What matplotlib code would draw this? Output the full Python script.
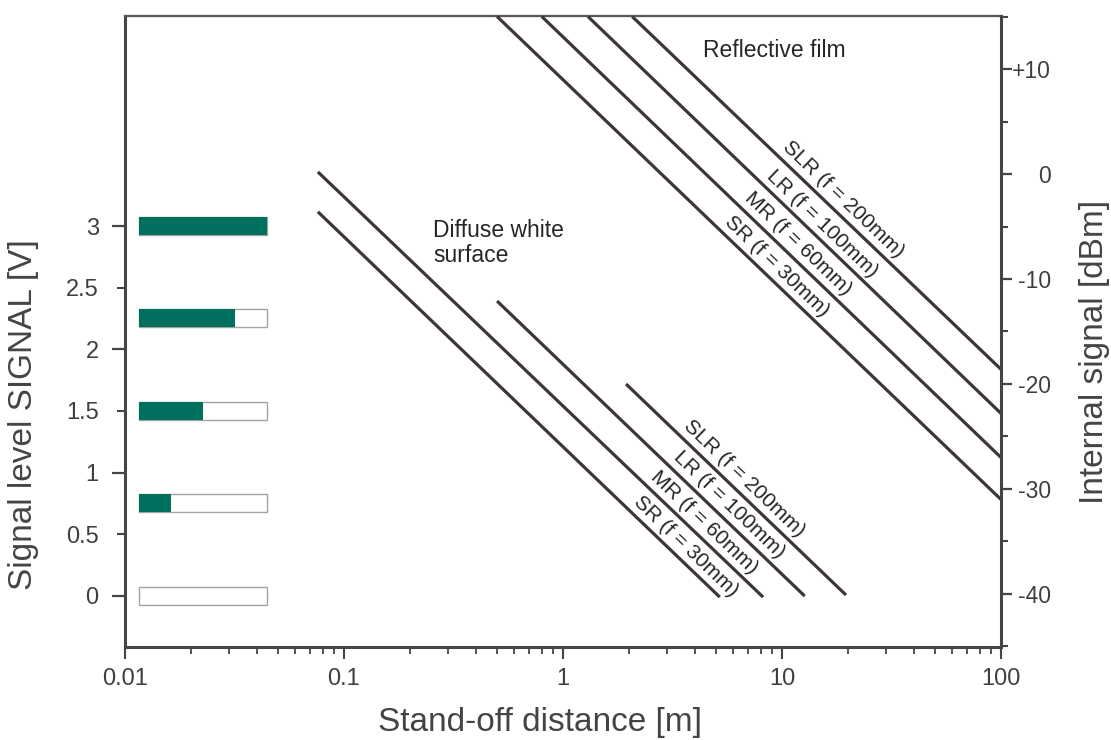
import numpy as np
import matplotlib.pyplot as plt
from matplotlib.ticker import FixedLocator, FixedFormatter, MultipleLocator, LogLocator, NullFormatter

plt.rcParams['font.family'] = ['Liberation Sans', 'DejaVu Sans']

# signal level bars on the left axis (V)
levels_v = [0.0, 0.75, 1.5, 2.25, 3.0]
full_scale_v = 3.0

# lines: stand-off distance (m) vs internal signal (dBm), endpoints
names = ['SR (f = 30mm)', 'MR (f = 60mm)', 'LR (f = 100mm)', 'SLR (f = 200mm)']
diffuse_d0 = [0.076, 0.076, 0.50, 1.94]
diffuse_s0 = [-3.6, 0.2, -12.1, -20.0]
diffuse_d1 = [5.2, 8.2, 12.7, 19.6]
diffuse_s1 = [-40.3, -40.3, -40.2, -40.1]
reflect_d0 = [0.50, 0.80, 1.30, 2.07]
reflect_s0 = [15.0, 15.0, 15.0, 15.0]
reflect_d1 = [100.0, 100.0, 100.0, 100.0]
reflect_s1 = [-31.0, -27.0, -22.8, -18.6]
# distance along each line where its label sits
diffuse_lab_d = [3.3, 4.0, 5.2, 6.1]
reflect_lab_d = [8.6, 10.7, 13.9, 17.2]

x_ticks = [0.01, 0.1, 1, 10, 100]
x_ticklabels = ['0.01', '0.1', '1', '10', '100']
v_major = [0, 1, 2, 3]
v_major_labels = ['0', '1', '2', '3']
v_minor = [0.5, 1.5, 2.5]
v_minor_labels = ['0.5', '1.5', '2.5']
dbm_ticks = [-40, -30, -20, -10, 0, 10]
dbm_ticklabels = ['-40', '-30', '-20', '-10', '0', '+10']

green = '#00705e'
line_c = '#3e3537'
spine_c = '#454545'
tick_c = '#3f3f3f'
text_c = '#262626'

fig = plt.figure(figsize=(11.11, 7.40), dpi=100)
ax = fig.add_axes([125/1111, 93/740, 876/1111, 631/740])
ax2 = ax.twinx()

ax.set_xscale('log')
ax.set_xlim(0.01, 100)
ax.set_ylim(-0.414, 4.703)
ax2.set_ylim(-45.05, 15.05)

# bars
lo, hi = 0.01158, 0.04448
for v in levels_v:
    frac = v / full_scale_v
    mid = 10 ** (np.log10(lo) + frac * (np.log10(hi) - np.log10(lo)))
    ax.barh(v, hi - lo, left=lo, height=0.146, color='white', edgecolor='#a3a3a3', linewidth=1.0)
    if frac > 0:
        ax.barh(v, mid - lo, left=lo, height=0.146, color=green, edgecolor='none')

# lines
for i in range(4):
    ax2.plot([diffuse_d0[i], diffuse_d1[i]], [diffuse_s0[i], diffuse_s1[i]],
             color=line_c, lw=2.3, solid_capstyle='butt')
    ax2.plot([reflect_d0[i], reflect_d1[i]], [reflect_s0[i], reflect_s1[i]],
             color=line_c, lw=2.3, solid_capstyle='butt')


def label_line(d0, s0, d1, s1, d_lab, text):
    t = (np.log10(d_lab) - np.log10(d0)) / (np.log10(d1) - np.log10(d0))
    s_lab = s0 + t * (s1 - s0)
    p0 = ax2.transData.transform((d0, s0))
    p1 = ax2.transData.transform((d1, s1))
    dx, dy = p1 - p0
    ang = np.degrees(np.arctan2(dy, dx))
    n = np.array([-dy, dx]) / np.hypot(dx, dy)
    ax2.annotate(text, (d_lab, s_lab), xytext=9.6 * n, textcoords='offset points',
                 rotation=ang, rotation_mode='anchor', ha='center', va='center',
                 fontsize=15, color=text_c)


for i in range(4):
    label_line(diffuse_d0[i], diffuse_s0[i], diffuse_d1[i], diffuse_s1[i], diffuse_lab_d[i], names[i])
    label_line(reflect_d0[i], reflect_s0[i], reflect_d1[i], reflect_s1[i], reflect_lab_d[i], names[i])

ax.text(0.3516, 0.678, 'Diffuse white\nsurface', transform=ax.transAxes, ha='left', va='top',
        fontsize=16.5, linespacing=1.1, color=text_c)
ax.text(0.660, 0.9635, 'Reflective film', transform=ax.transAxes, ha='left', va='top',
        fontsize=16.5, color=text_c)

# spines
for s in ['left', 'bottom']:
    ax.spines[s].set_color(spine_c)
    ax.spines[s].set_linewidth(2.2)
ax.spines['top'].set_color('#555555')
ax.spines['top'].set_linewidth(1.6)
ax.spines['right'].set_visible(False)
for s in ['left', 'bottom', 'top']:
    ax2.spines[s].set_visible(False)
ax2.spines['right'].set_color(spine_c)
ax2.spines['right'].set_linewidth(2.2)

# x axis
ax.xaxis.set_major_locator(FixedLocator(x_ticks))
ax.xaxis.set_major_formatter(FixedFormatter(x_ticklabels))
ax.xaxis.set_minor_locator(LogLocator(base=10, subs=np.arange(2, 10)))
ax.xaxis.set_minor_formatter(NullFormatter())
ax.tick_params(axis='x', which='major', direction='out', length=8.6, width=1.5,
               color=spine_c, labelsize=17, labelcolor=tick_c, pad=6.5, top=False)
ax.tick_params(axis='x', which='minor', direction='out', length=5, width=1.3,
               color=spine_c, top=False)

# left axis
ax.yaxis.set_major_locator(FixedLocator(v_major))
ax.yaxis.set_major_formatter(FixedFormatter(v_major_labels))
ax.yaxis.set_minor_locator(FixedLocator(v_minor))
ax.yaxis.set_minor_formatter(FixedFormatter(v_minor_labels))
ax.tick_params(axis='y', which='major', direction='out', length=9.4, width=1.6,
               color=spine_c, labelsize=17, labelcolor=tick_c, pad=9.5, right=False)
ax.tick_params(axis='y', which='minor', direction='out', length=5.8, width=1.5,
               color=spine_c, labelsize=17, labelcolor=tick_c, pad=13, right=False)

# right axis
ax2.set_yticks(dbm_ticks, dbm_ticklabels, ha='right')
ax2.yaxis.set_minor_locator(MultipleLocator(5))
ax2.tick_params(axis='y', which='major', direction='out', length=7.8, width=1.6,
                color=spine_c, labelsize=16.5, labelcolor=tick_c, pad=28)
ax2.tick_params(axis='y', which='minor', direction='out', length=5.2, width=1.5, color=spine_c)

ax.set_xlabel('Stand-off distance [m]', fontsize=24, color='#444444')
ax.xaxis.set_label_coords(0.474, -0.119)
ax.xaxis.label.set_va('center')
ax.set_ylabel('Signal level SIGNAL [V]', fontsize=24, color='#444444')
ax.yaxis.set_label_coords(-0.116, 0.368)
ax.yaxis.label.set_va('center')
ax2.set_ylabel('Internal signal [dBm]', fontsize=24, color='#444444')
ax2.yaxis.set_label_coords(1.107, 0.4675)
ax2.yaxis.label.set_va('center')

fig.savefig('out.png', dpi=100)
